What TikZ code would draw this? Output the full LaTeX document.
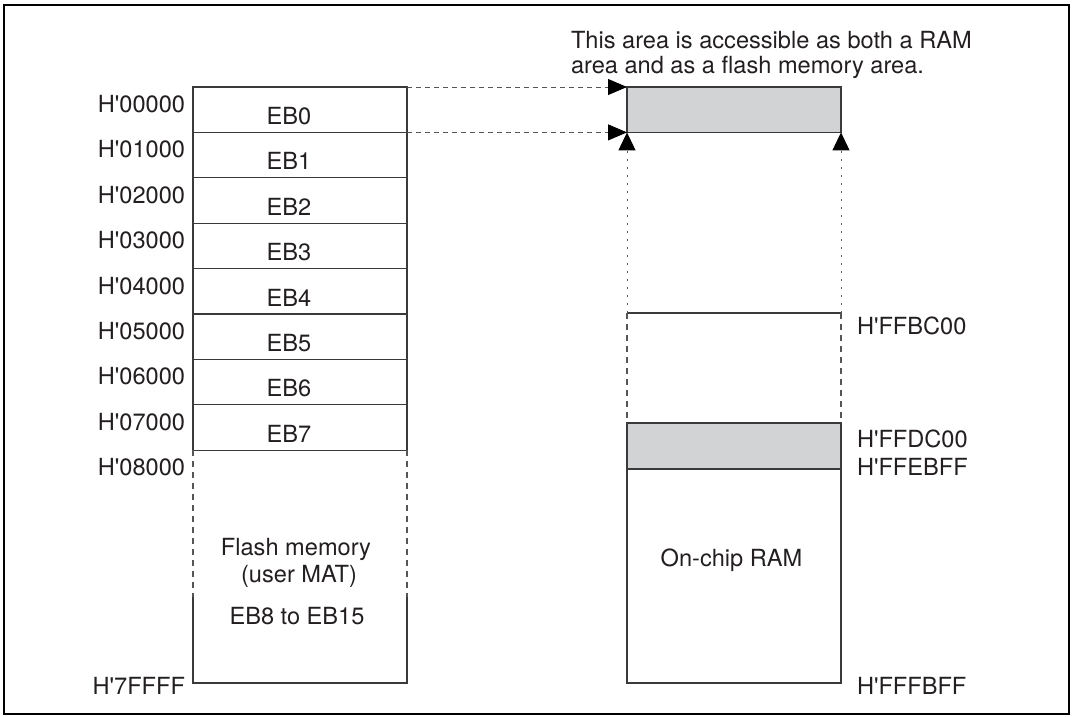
\documentclass[tikz,border=0pt]{standalone}
\usepackage{fontspec}
\setmainfont{TeX Gyre Heros}
\usetikzlibrary{arrows.meta}
\definecolor{ink}{HTML}{231F20}
\definecolor{shade}{HTML}{D2D3D5}
\definecolor{edge}{HTML}{3A3A3A}
\definecolor{dashc}{HTML}{555555}
\newcommand\hq{H\textquotesingle}
\begin{document}
\begin{tikzpicture}[x=1pt,y=-1pt,
  every node/.style={font=\fontsize{23.6}{25}\selectfont, text=ink, inner sep=0pt, outer sep=0pt},
  blk/.style={draw=edge, line width=1.1pt, minimum width=214pt, anchor=north west},
  grayblk/.style={blk, fill=shade},
  solidline/.style={draw=edge, line width=1.1pt},
  sidedash/.style={draw=dashc, line width=1.1pt, dash pattern=on 6pt off 5pt},
  hdash/.style={draw=dashc, line width=0.9pt, dash pattern=on 5pt off 4pt, -{Triangle[length=19pt,width=16pt,color=black,fill=black]}},
  vdot/.style={draw=dashc, line width=1pt, dash pattern=on 2pt off 6pt, -{Triangle[length=18pt,width=17pt,color=black,fill=black]}}
]
\useasboundingbox (0,0) rectangle (1073,716);
\draw[line width=2.5pt] (4,5) rectangle (1069,714);

% left column rows
\foreach \i in {0,...,7} {
  \node[blk, minimum height=45.4pt] (r\i) at (193,{87+45.4*\i}) {};
  \node[anchor=base] (e\i) at (289,{124.5+45.4*\i}) {EB\i};
}
\foreach \i in {0,...,8} {
  \node[anchor=base east] (a\i) at (185,{112.5+45.4*\i}) {\hq0\i000};
}
% flash memory lower part
\coordinate (fl) at (193,597);
\coordinate (fr) at (407,597);
\coordinate (fbl) at (193,683);
\coordinate (fbr) at (407,683);
\draw[sidedash] (r7.south west) -- (fl);
\draw[sidedash] (r7.south east) -- (fr);
\draw[solidline] (fl) -- (fbl) -- (fbr) -- (fr);
\node[anchor=base] (fm1) at (296,555) {Flash memory};
\node[anchor=base] (fm2) at (299,582) {(user MAT)};
\node[anchor=base] (fm3) at (297,624) {EB8 to EB15};
\node[anchor=base east] (a9) at (185,694) {\hq7FFFF};

% right column
\node[grayblk, minimum height=45.4pt] (shared) at (627,87) {};
\coordinate (rtl) at (627,313);
\coordinate (rtr) at (841,313);
\draw[solidline] (rtl) -- (rtr);
\node[grayblk, minimum height=46pt] (band) at (627,423) {};
\node[blk, minimum height=214pt] (ramlow) at (627,469) {};
\draw[sidedash] (rtl) -- (band.north west);
\draw[sidedash] (rtr) -- (band.north east);
\node[anchor=base] (ramt) at (731.5,566) {On-chip RAM};

\node[anchor=base west] (b1) at (857,334.5) {\hq FFBC00};
\node[anchor=base west] (b2) at (857,447) {\hq FFDC00};
\node[anchor=base west] (b3) at (857,475) {\hq FFEBFF};
\node[anchor=base west] (b4) at (857,694) {\hq FFFBFF};

% connectors
\draw[hdash] (r0.north east) -- (shared.north west);
\draw[hdash] (r0.south east) -- (shared.south west);
\draw[vdot] (rtl) -- (shared.south west);
\draw[vdot] (rtr) -- (shared.south east);

% note
\node[anchor=base west] (n1) at (571,48) {This area is accessible as both a RAM};
\node[anchor=base west] (n2) at (571,73) {area and as a flash memory area.};
\end{tikzpicture}
\end{document}
